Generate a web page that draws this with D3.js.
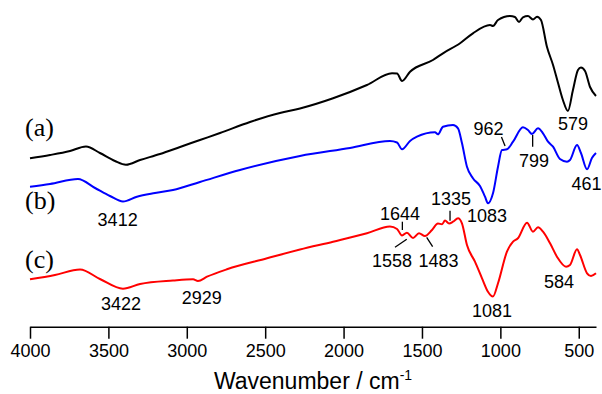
<!DOCTYPE html>
<html>
<head>
<meta charset="utf-8">
<script src="https://cdn.jsdelivr.net/npm/d3@7"></script>
<style>
  body { margin: 0; background: #fff; }
  text { font-family: "Liberation Sans", Arial, sans-serif; }
</style>
</head>
<body>
<div id="container"></div>
<script>
var w = 602,
  h = 394;

// wavenumber (cm-1) and transmittance (a.u.)
var waveA = [4000, 3872, 3745, 3643, 3554, 3458, 3388, 3298, 3171, 3043, 2916, 2788, 2597, 2406, 2278, 2067, 1851, 1691, 1659, 1627, 1576, 1430, 1366, 1257, 1175, 1066, 1047, 1015, 939, 907, 881, 856, 824, 792, 766, 741, 703, 664, 632, 601, 569, 537, 505, 486, 460, 428, 390];
var transA = [171.7, 175, 179, 183.5, 177, 169, 165.3, 170, 176, 183, 190, 197, 208, 217, 221.5, 231.7, 245, 256.7, 256.5, 249, 258.3, 270, 276.7, 286.7, 296.7, 305, 304, 310, 314, 313, 308, 312.7, 314, 310.5, 313.3, 310, 283.3, 265, 247, 230, 219, 240, 260, 262.5, 259, 243, 234];

var waveB = [4000, 3872, 3694, 3585, 3490, 3407, 3318, 3203, 3088, 2916, 2661, 2278, 1959, 1704, 1659, 1627, 1576, 1532, 1417, 1398, 1366, 1302, 1270, 1245, 1213, 1175, 1130, 1098, 1079, 1047, 1015, 990, 958, 919, 856, 824, 798, 760, 728, 696, 664, 620, 575, 556, 511, 486, 447, 416, 390];
var transB = [143.3, 146, 151, 142, 134, 128.5, 133.3, 137, 140, 148, 160, 174, 182, 189, 187.5, 180.7, 189, 193.3, 197.7, 195.7, 203.3, 205, 201.7, 187, 163.3, 151.7, 144, 133.3, 126.7, 136.7, 163.3, 180, 180.7, 188.3, 202.7, 200, 196, 201.7, 196.7, 188.3, 183.3, 171, 168.3, 170, 185, 177, 160.7, 172, 177];

var waveC = [4000, 3841, 3681, 3554, 3407, 3298, 3088, 2960, 2929, 2871, 2744, 2488, 2278, 2067, 1851, 1704, 1659, 1627, 1596, 1557, 1519, 1481, 1436, 1398, 1372, 1353, 1327, 1302, 1270, 1245, 1213, 1162, 1117, 1079, 1047, 1015, 958, 919, 888, 830, 792, 760, 728, 683, 639, 581, 556, 511, 492, 447, 422, 390];
var transC = [50.7, 55, 60.5, 51, 41.3, 46, 49.5, 50.7, 49, 53.3, 60.7, 71.7, 80.5, 88.3, 96.7, 103.5, 101, 94.5, 97.3, 92, 96.7, 94, 100, 106.5, 105.7, 109.5, 106.5, 108.3, 111.7, 106.7, 85, 68.3, 51.7, 38.3, 33.5, 46.7, 78.3, 88.3, 91.7, 107.3, 98.3, 102.7, 98.3, 86.7, 73.3, 63.3, 65, 80.7, 75, 56.7, 54, 56.7];

var seriesNames = ["(a)", "(b)", "(c)"];
var seriesColors = ["#000000", "#0000ff", "#ff0000"];
var seriesLabelY = [135.5, 208.5, 267.5];

var tickValues = [4000, 3500, 3000, 2500, 2000, 1500, 1000, 500];

// peak labels: text, anchor wavenumber, anchor transmittance, optional leader [w1, t1, w2, t2]
var peakText = ["579", "962", "799", "461", "1083", "3412", "1335", "1644", "1558", "1483", "3422", "2929", "1081", "584"];
var peakWave = [537, 1076, 785, 451, 1085, 3441, 1315, 1640, 1691, 1395, 3420, 2905, 1053, 626];
var peakTrans = [200.5, 195, 163.3, 140, 108.5, 104, 125, 110, 63, 63, 20, 26, 13, 42];
var peakLeader = [null, [993, 193, 970, 184], [794, 195, 794, 183.3], null, null, null,
  [1321, 119.3, 1321, 109.3], [1625, 108.3, 1625, 100], [1597, 90.7, 1672, 82.7], [1470, 92.7, 1432, 83.3],
  null, null, null, null];

var svg = d3.select("#container").append("svg")
  .attr("width", w)
  .attr("height", h);

var xScale = d3.scaleLinear()
  .domain([4000, 390])
  .range([30, 596]);

var yScale = d3.scaleLinear()
  .domain([0, 330])
  .range([330, 0]);

var line = d3.line()
  .x(d => xScale(d[0]))
  .y(d => yScale(d[1]))
  .curve(d3.curveMonotoneX);

var spectra = [
  d3.zip(waveA, transA),
  d3.zip(waveB, transB),
  d3.zip(waveC, transC)
];

svg.append("g")
  .selectAll("path")
  .data(spectra)
  .enter()
  .append("path")
  .attr("d", line)
  .attr("fill", "none")
  .attr("stroke", (d, i) => seriesColors[i])
  .attr("stroke-width", 2)
  .attr("stroke-linejoin", "round");

svg.append("g")
  .selectAll("text")
  .data(seriesNames)
  .enter()
  .append("text")
  .attr("x", 25)
  .attr("y", (d, i) => seriesLabelY[i])
  .style("font-family", "'Liberation Serif', 'Times New Roman', serif")
  .style("font-size", "26px")
  .text(d => d);

// peak annotations
var ann = svg.append("g");
peakText.forEach(function (t, i) {
  ann.append("text")
    .attr("x", xScale(peakWave[i]))
    .attr("y", yScale(peakTrans[i]))
    .attr("text-anchor", "middle")
    .style("font-size", "18px")
    .text(t);
  var l = peakLeader[i];
  if (l) {
    ann.append("line")
      .attr("x1", xScale(l[0]))
      .attr("y1", yScale(l[1]))
      .attr("x2", xScale(l[2]))
      .attr("y2", yScale(l[3]))
      .attr("stroke", "#000")
      .attr("stroke-width", 1.3);
  }
});

var xAxis = svg.append("g")
  .attr("transform", "translate(0,326.7)")
  .call(d3.axisBottom(xScale)
    .tickValues(tickValues)
    .tickSize(12)
    .tickPadding(6)
    .tickSizeOuter(0)
    .tickFormat(d3.format("d")));

xAxis.select(".domain").attr("stroke-width", 1.5);
xAxis.selectAll(".tick line").attr("stroke-width", 1.5);
xAxis.selectAll(".tick text")
  .style("font-family", "'Liberation Sans', Arial, sans-serif")
  .style("font-size", "18px")
  .attr("fill", "#000");

var title = svg.append("text")
  .attr("x", 313)
  .attr("y", 389)
  .attr("text-anchor", "middle")
  .style("font-size", "23px");
title.append("tspan").text("Wavenumber / cm");
title.append("tspan")
  .attr("dy", -9)
  .style("font-size", "14px")
  .text("-1");
</script>
</body>
</html>
